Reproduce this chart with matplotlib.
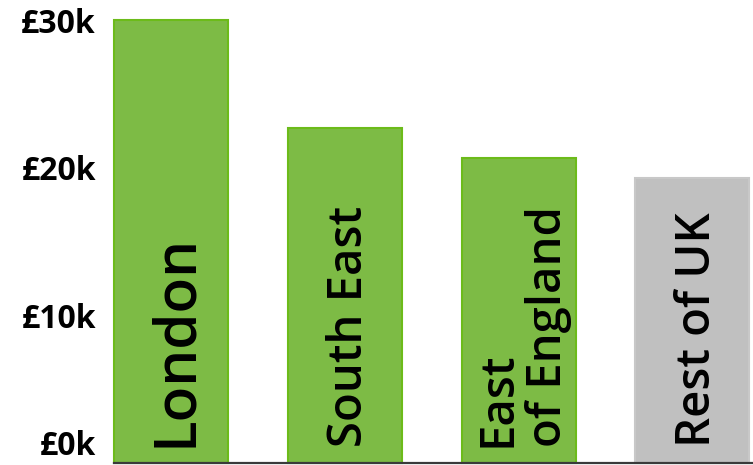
import numpy as np
import matplotlib
matplotlib.use("Agg")
import matplotlib.pyplot as plt
import matplotlib.transforms as mtransforms

# data
regions = ["London", "South East", "East\nof England", "Rest of UK"]
earnings_k = [30.0, 22.7, 20.65, 19.3]
bar_colors = ["#7dbb45", "#7dbb45", "#7dbb45", "#c0c0c0"]
edge_colors = ["#6cbb1a", "#6cbb1a", "#6cbb1a", "#c8c8c8"]
label_sizes = [42, 34, 34, 34]
yticks = [0, 10, 20, 30]
ytick_labels = ["£0k", "£10k", "£20k", "£30k"]

plt.rcParams['font.family'] = ['Open Sans', 'DejaVu Sans']

fig = plt.figure(figsize=(7.53, 4.65), dpi=100)
ax = fig.add_axes([114/753, 2/465, 639/753, 443/465])

x = np.arange(len(regions))
ax.bar(x, earnings_k, width=0.657, color=bar_colors, edgecolor=edge_colors,
       linewidth=1.5, clip_on=False, zorder=2)

# nudge the rotated labels right a little (descender space sits on the right)
shift = ax.transData + mtransforms.ScaledTranslation(5/100, 0, fig.dpi_scale_trans)
for xi, name, fs in zip(x, regions, label_sizes):
    ax.text(xi, 1.1, name, rotation=90, ha="center", va="bottom",
            multialignment="left", fontsize=fs, fontweight="semibold",
            linespacing=1.1, color="black", zorder=3, transform=shift)

ax.set_xlim(-0.329, 3.349)
ax.set_ylim(0, 30)
ax.set_xticks([])
ax.set_yticks(yticks)
ax.set_yticklabels(ytick_labels, fontsize=23, fontweight="bold")
ax.tick_params(axis="y", length=0, pad=13)
labels = ax.get_yticklabels()
labels[0].set_va("bottom")

for s in ["top", "right", "left"]:
    ax.spines[s].set_visible(False)
ax.spines["bottom"].set_color("#3a3a3a")
ax.spines["bottom"].set_linewidth(1.6)
ax.spines["bottom"].set_zorder(4)

fig.savefig("out.png", dpi=100)
